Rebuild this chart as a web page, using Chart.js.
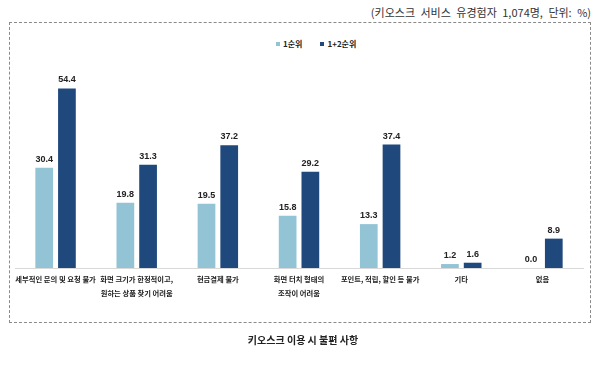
<!DOCTYPE html>
<html>
<head>
<meta charset="utf-8">
<script src="https://cdn.jsdelivr.net/npm/chart.js@4"></script>
<style>
  body { margin:0; width:606px; height:365px; background:#fff; position:relative; overflow:hidden;
         font-family:"Noto Sans CJK KR", "Liberation Sans", sans-serif; }
  #box { position:absolute; left:9px; top:22px; width:580px; height:299px; border:1.5px dashed #8a8a8a; }
  #sub { position:absolute; right:15px; top:4px; font-size:11px; word-spacing:3px; color:#333; }
  #ttl { position:absolute; left:0; width:606px; top:332px; text-align:center; font-size:10px; font-weight:bold; color:#222; }
  #legend { position:absolute; top:38px; left:276px; font-size:8px; font-weight:bold; color:#222; white-space:nowrap; }
  #legend span.sq { display:inline-block; width:4px; height:4px; margin-right:3px; vertical-align:middle; position:relative; top:-1px; }
  #legend span.item { margin-right:18px; }
  #c { position:absolute; left:0; top:0; }
</style>
</head>
<body>
<div id="sub">(키오스크 서비스 유경험자 1,074명, 단위: %)</div>
<div id="box"></div>
<div id="legend"><span class="item"><span class="sq" style="background:#93C4D6"></span>1순위</span><span class="item"><span class="sq" style="background:#1F497D"></span>1+2순위</span></div>
<canvas id="c" width="606" height="365"></canvas>
<div id="ttl">키오스크 이용 시 불편 사항</div>
<script>
// ============================
// DATA
// ============================
const categories = [
  ["세부적인 문의 및 요청 불가"],
  ["화면 크기가 한정적이고,", "원하는 상품 찾기 어려움"],
  ["현금결제 불가"],
  ["화면 터치 형태의", "조작이 어려움"],
  ["포인트, 적립, 할인 등 불가"],
  ["기타"],
  ["없음"]
];
const seriesNames = ["1순위", "1+2순위"];
const rank1 = [30.4, 19.8, 19.5, 15.8, 13.3, 1.2, 0.0];
const rank12 = [54.4, 31.3, 37.2, 29.2, 37.4, 1.6, 8.9];
const colors = ["#93C4D6", "#1F497D"];

// ============================
// VALUE LABELS
// ============================
const valueLabels = {
  id: "valueLabels",
  afterDatasetsDraw(chart){
    const ctx = chart.ctx;
    ctx.save();
    ctx.font = "bold 9px 'Liberation Sans', Arial, sans-serif";
    ctx.fillStyle = "#222";
    ctx.textAlign = "center";
    ctx.textBaseline = "bottom";
    chart.data.datasets.forEach((ds, i) => {
      chart.getDatasetMeta(i).data.forEach((bar, j) => {
        ctx.fillText(ds.data[j].toFixed(1), bar.x, bar.y - 4);
      });
    });
    ctx.restore();
  }
};

new Chart(document.getElementById("c"), {
  type: "bar",
  data: {
    labels: categories,
    datasets: [
      { label: seriesNames[0], data: rank1, backgroundColor: colors[0] },
      { label: seriesNames[1], data: rank12, backgroundColor: colors[1] }
    ]
  },
  options: {
    responsive: false,
    animation: false,
    layout: { padding: { left: 15, right: 23, top: 70, bottom: 57 } },
    plugins: { legend: { display: false }, tooltip: { enabled: false } },
    datasets: { bar: { categoryPercentage: 0.56, barPercentage: 0.78 } },
    scales: {
      x: {
        grid: { display: false },
        border: { color: "#d9d9d9" },
        ticks: {
          color: "#222",
          padding: -4,
          font: { family: "'Noto Sans CJK KR'", size: 7.3, weight: "bold", lineHeight: 1.9 },
          maxRotation: 0, autoSkip: false
        },
        afterFit: s => { s.height = 40; }
      },
      y: { display: false, min: 0, max: 60 }
    }
  },
  plugins: [valueLabels]
});
</script>
</body>
</html>
